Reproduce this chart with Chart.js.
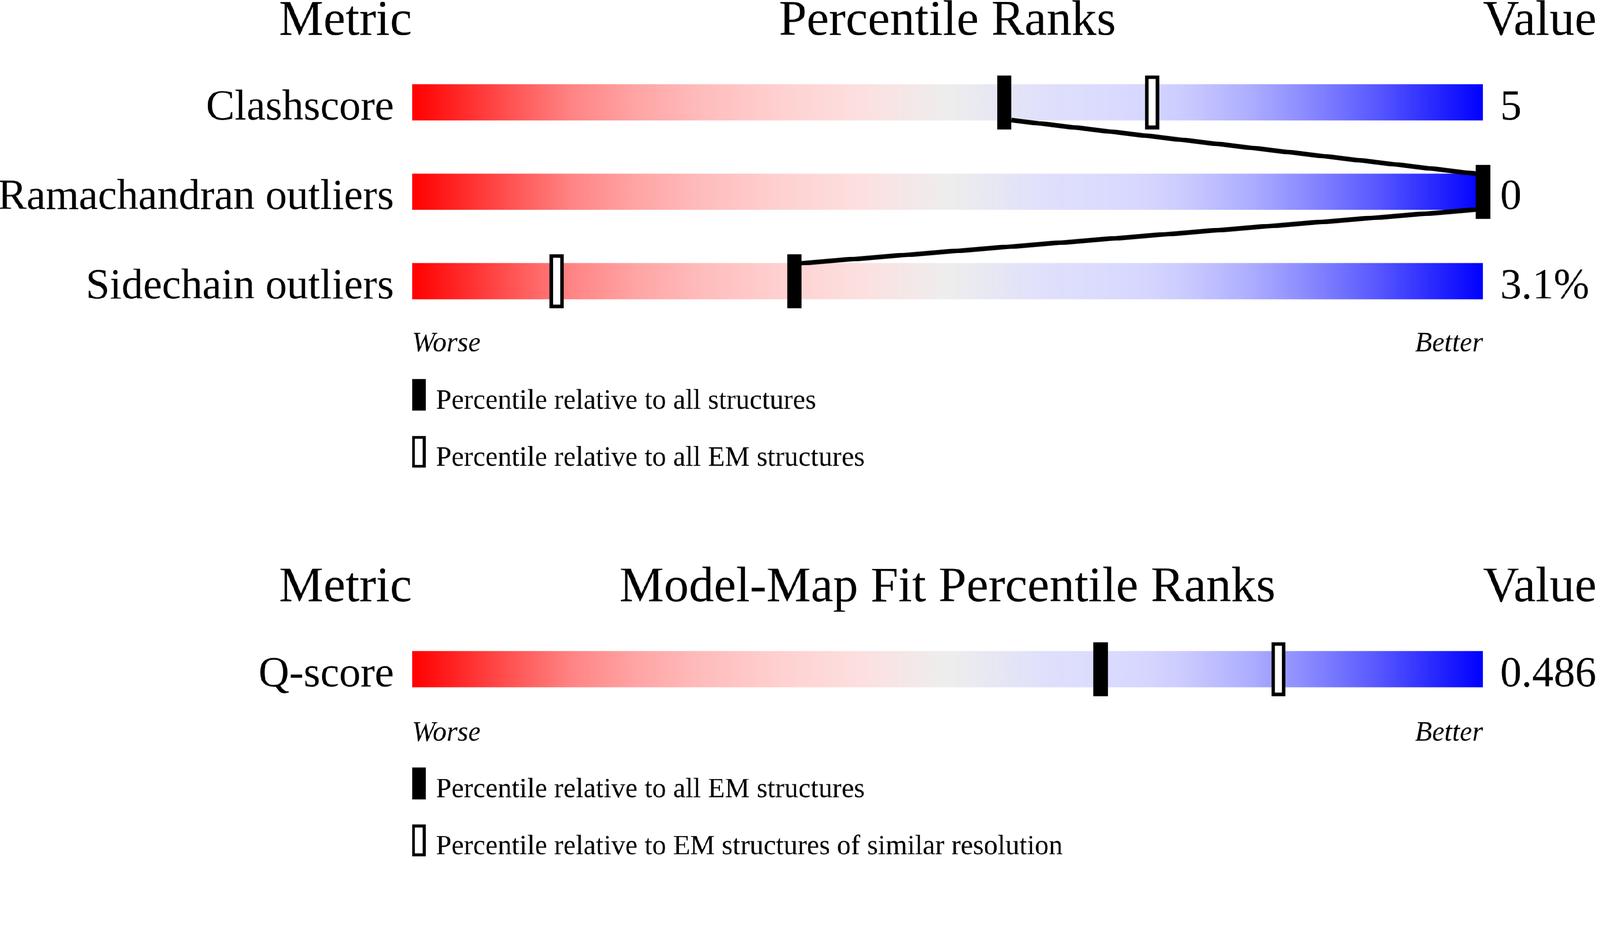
<!DOCTYPE html>
<html>
<head>
<meta charset="utf-8">
<script src="https://cdn.jsdelivr.net/npm/chart.js@4.4.0/dist/chart.umd.min.js"></script>
<style>
  html, body { margin: 0; padding: 0; background: #fff; overflow: hidden; }
  #page { position: absolute; left: 0; top: 0; width: 4485px; height: 2402px; transform-origin: 0 0; }
  canvas { position: absolute; left: 0; }
  #geometry { top: 0; }
  #fit { top: 1400px; }
</style>
</head>
<body>
<div id="page">
  <canvas id="geometry" width="4485" height="1400"></canvas>
  <canvas id="fit" width="4485" height="1002"></canvas>
</div>
<script>
// percentile scale and its end labels
const rankRange = [0, 100];
const scaleEnds = ["Worse", "Better"];

// model geometry panel
const geometryHeaders = ["Metric", "Percentile Ranks", "Value"];
const geometryMetrics = ["Clashscore", "Ramachandran outliers", "Sidechain outliers"];
const geometryValues = ["5", "0", "3.1%"];
const geometryAll = [55.3, 100, 35.7];
const geometryEM = [69.1, null, 13.5];
const geometryLegend = ["Percentile relative to all structures", "Percentile relative to all EM structures"];

// model-map fit panel
const fitHeaders = ["Metric", "Model-Map Fit Percentile Ranks", "Value"];
const fitMetrics = ["Q-score"];
const fitValues = ["0.486"];
const fitAllEM = [64.3];
const fitSimilarRes = [80.9];
const fitLegend = ["Percentile relative to all EM structures", "Percentile relative to EM structures of similar resolution"];

// the page is laid out at 4485 px wide and shrunk to the window
const fitScale = window.innerWidth / 4485;
document.getElementById("page").style.transform = "scale(" + fitScale + ")";
const renderRatio = (window.devicePixelRatio || 1) * fitScale;

Chart.defaults.font.family = '"Liberation Serif", "Times New Roman", serif';
Chart.defaults.color = "#000";

const gradientStops = [
  [0, "#ff0000"], [0.1, "#ff5a5a"], [0.15, "#ff8585"], [0.21, "#ffa5a5"],
  [0.27, "#ffbcbc"], [0.35, "#ffd2d2"], [0.42, "#fde0e0"], [0.5, "#eeeeee"],
  [0.59, "#e0e0fc"], [0.66, "#dadaff"], [0.69, "#d5d5ff"], [0.724, "#cacaff"],
  [0.782, "#aeaeff"], [0.836, "#8a8aff"], [0.9, "#5959ff"], [1, "#0000ff"]
];

function markImage(w, h, border) {
  const c = document.createElement("canvas");
  c.width = w;
  c.height = h;
  const g = c.getContext("2d");
  g.fillStyle = "#000";
  g.fillRect(0, 0, w, h);
  if (border) {
    g.fillStyle = "#fff";
    g.fillRect(border, border, w - 2 * border, h - 2 * border);
  }
  return c;
}

function gradientFill(context) {
  const chart = context.chart;
  if (!chart.chartArea) return null;
  const x = chart.scales.x;
  const g = chart.ctx.createLinearGradient(x.getPixelForValue(rankRange[0]), 0, x.getPixelForValue(rankRange[1]), 0);
  gradientStops.forEach(function (s) { g.addColorStop(s[0], s[1]); });
  return g;
}

function points(metrics, values) {
  return values
    .map(function (v, i) { return v == null ? null : { x: v, y: metrics[i] }; })
    .filter(Boolean);
}

const headerPlugin = {
  id: "headers",
  afterDraw(chart, args, o) {
    const { ctx, chartArea } = chart;
    ctx.save();
    ctx.fillStyle = "#000";
    ctx.font = o.size + 'px "Liberation Serif"';
    ctx.textBaseline = "alphabetic";
    ctx.textAlign = "right";
    ctx.fillText(o.texts[0], chartArea.left, o.baseline);
    ctx.textAlign = "center";
    ctx.fillText(o.texts[1], (chartArea.left + chartArea.right) / 2, o.baseline);
    ctx.textAlign = "left";
    ctx.fillText(o.texts[2], chartArea.right, o.baseline);
    ctx.restore();
  }
};

// joins the filled marks from one bar edge to the next
const connectorPlugin = {
  id: "connectors",
  afterDatasetsDraw(chart, args, o) {
    const marks = chart.getDatasetMeta(0).data;
    const bars = chart.getDatasetMeta(2).data;
    if (marks.length < 2) return;
    const half = o.markWidth / 2;
    const ctx = chart.ctx;
    ctx.save();
    ctx.strokeStyle = "#000";
    ctx.lineWidth = o.lineWidth;
    ctx.beginPath();
    for (let i = 0; i < marks.length - 1; i++) {
      const a = marks[i];
      const b = marks[i + 1];
      const dir = b.x >= a.x ? 1 : -1;
      ctx.moveTo(a.x + dir * half, bars[i].y + bars[i].height / 2);
      ctx.lineTo(b.x - dir * half, bars[i + 1].y - bars[i + 1].height / 2);
    }
    ctx.stroke();
    ctx.restore();
  }
};

const keyPlugin = {
  id: "key",
  afterDraw(chart, args, o) {
    const { ctx, chartArea } = chart;
    ctx.save();
    ctx.fillStyle = "#000";
    ctx.font = o.size + 'px "Liberation Serif"';
    ctx.textAlign = "left";
    ctx.textBaseline = "alphabetic";
    o.images.forEach(function (img, i) {
      const top = o.top + i * o.step;
      ctx.drawImage(img, chartArea.left, top);
      ctx.fillText(chart.data.datasets[i].label, chartArea.left + o.textGap, top + o.textDrop);
    });
    ctx.restore();
  }
};

function makePanel(id, p) {
  const filledMark = markImage(40, 151, 0);
  const hollowMark = markImage(40, 151, 10);
  const ctx = document.getElementById(id);
  return new Chart(ctx, {
    type: "bar",
    data: {
      labels: p.metrics,
      datasets: [
        {
          type: "scatter",
          label: p.legend[0],
          data: points(p.metrics, p.filled),
          pointStyle: filledMark,
          clip: false,
          order: 0
        },
        {
          type: "scatter",
          label: p.legend[1],
          data: points(p.metrics, p.hollow),
          pointStyle: hollowMark,
          clip: false,
          order: 1
        },
        {
          label: "range",
          data: p.metrics.map(function () { return rankRange; }),
          backgroundColor: gradientFill,
          borderWidth: 0,
          barThickness: 101,
          order: 2
        }
      ]
    },
    options: {
      indexAxis: "y",
      responsive: false,
      animation: false,
      devicePixelRatio: renderRatio,
      events: [],
      layout: { padding: { top: p.areaTop, bottom: p.areaBottom, left: 0, right: 0 } },
      scales: {
        x: {
          type: "linear",
          min: rankRange[0],
          max: rankRange[1],
          grid: { display: false, drawTicks: false },
          border: { display: false },
          afterBuildTicks: function (s) { s.ticks = rankRange.map(function (v) { return { value: v }; }); },
          afterFit: function (s) { s.height = 80; },
          ticks: {
            callback: function (v, i) { return scaleEnds[i]; },
            align: "inner",
            padding: p.endsPadding,
            maxRotation: 0,
            autoSkip: false,
            font: { size: 78, style: "italic" }
          }
        },
        y: {
          type: "category",
          position: "left",
          offset: true,
          grid: { display: false, drawTicks: false },
          border: { display: false },
          afterFit: function (s) { s.width = 1155; },
          ticks: { padding: 51, labelOffset: 17, autoSkip: false, font: { size: 120 } }
        },
        yValue: {
          type: "category",
          position: "right",
          labels: p.values,
          offset: true,
          grid: { display: false, drawTicks: false },
          border: { display: false },
          afterFit: function (s) { s.width = 328; },
          ticks: { padding: 48, labelOffset: 17, autoSkip: false, font: { size: 120 } }
        }
      },
      plugins: {
        legend: { display: false },
        tooltip: { enabled: false },
        headers: { texts: p.headers, size: 140, baseline: p.headerBaseline },
        connectors: { markWidth: 40, lineWidth: 13 },
        key: {
          images: [markImage(38, 89, 0), markImage(38, 89, 8)],
          size: 78,
          top: p.keyTop,
          step: 160,
          textGap: 67,
          textDrop: 83
        }
      }
    },
    plugins: [headerPlugin, connectorPlugin, keyPlugin]
  });
}

makePanel("geometry", {
  headers: geometryHeaders,
  metrics: geometryMetrics,
  values: geometryValues,
  filled: geometryAll,
  hollow: geometryEM,
  legend: geometryLegend,
  headerBaseline: 97,
  areaTop: 161,
  areaBottom: 406.5,
  endsPadding: 4,
  keyTop: 1062
});

makePanel("fit", {
  headers: fitHeaders,
  metrics: fitMetrics,
  values: fitValues,
  filled: fitAllEM,
  hollow: fitSimilarRes,
  legend: fitLegend,
  headerBaseline: 286,
  areaTop: 350.5,
  areaBottom: 320.5,
  endsPadding: 8,
  keyTop: 752
});
</script>
</body>
</html>
